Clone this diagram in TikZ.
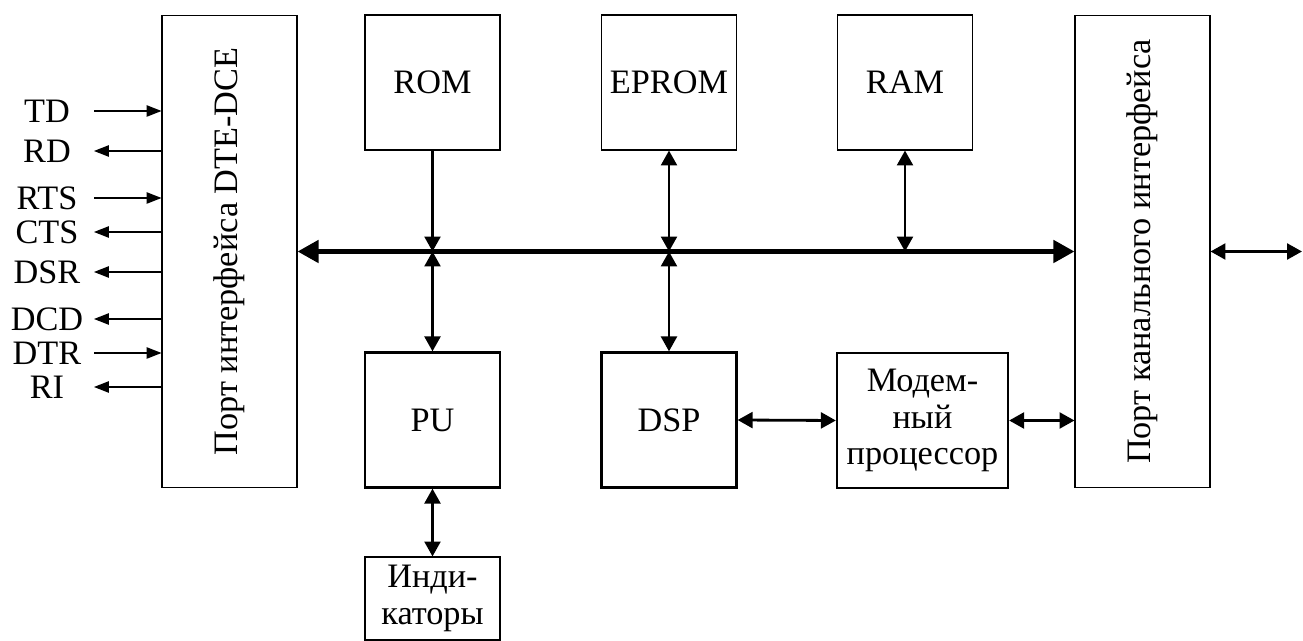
\documentclass[tikz,border=0pt]{standalone}
\usepackage{fontspec}
\setmainfont{Liberation Serif}
\usetikzlibrary{arrows.meta}
\usetikzlibrary{positioning}

\begin{document}
\begin{tikzpicture}[x=0.02cm, y=-0.02cm,
    font=\fontsize{19.5}{21}\selectfont,
    block/.style={draw, line width=0.6pt, minimum width=2.7cm, minimum height=2.7cm, align=center, inner sep=0pt},
    boldblock/.style={block, line width=1.3pt},
    link/.style={line width=1.6pt, {Triangle[length=8.5pt, width=9pt]}-{Triangle[length=8.5pt, width=9pt]}},
    tolink/.style={line width=1.6pt, -{Triangle[length=8.5pt, width=9pt]}},
    bus/.style={line width=2.8pt, {Triangle[length=12pt, width=12.5pt]}-{Triangle[length=12pt, width=12.5pt]}},
    sigline/.style={line width=0.7pt, -{Triangle[length=8.5pt, width=6.5pt]}}]
  \useasboundingbox (0,0) rectangle (1303,641);

  % Ports
  \node[block, minimum height=9.46cm] (dte) at (229.5, 251.5) {};
  \node[rotate=90] (dtetext) at (dte.center) {Порт интерфейса DTE-DCE};
  \node[block, minimum height=9.46cm] (chan) at (1142.5, 251.5) {};
  \node[rotate=90] (chantext) at (chan.center) {Порт канального интерфейса};

  % Memory
  \node[block] (rom) at (432.5, 82.5) {ROM};
  \node[block] (eprom) at (669, 82.5) {EPROM};
  \node[block] (ram) at (905, 82.5) {RAM};

  % Processors
  \node[boldblock] (pu) at (432.5, 420) {PU};
  \node[boldblock] (dsp) at (669, 420) {DSP};
  \node[boldblock, minimum width=3.42cm] (modem) at (922.5, 420.5) {Модем-\\ный\\процессор};
  \node[block, minimum height=1.66cm] (ind) at (432.5, 598.5) {Инди-\\каторы};
  \coordinate (ext) at (1302, 251.5);

  % System bus
  \draw[bus] (dte.east) -- (chan.west);

  \draw[tolink] (rom.south) -- (rom.south |- dte.east);
  \draw[link] (pu.north |- dte.east) -- (pu.north);
  \draw[link] (eprom.south) -- (eprom.south |- dte.east);
  \draw[link] (dsp.north |- dte.east) -- (dsp.north);
  \draw[link] (ram.south) -- (ram.south |- dte.east);
  \draw[link] (pu.south) -- (ind.north);
  \draw[link] (dsp.east) -- (modem.west);
  \draw[link] (modem.east) -- (modem.east -| chan.west);
  \draw[link] (chan.east) -- (ext);

  % Interface signals
  \foreach \sig/\y/\s/\t in {TD/111/tail/pin, RD/151/pin/tail, RTS/198/tail/pin, CTS/232/pin/tail,
                              DSR/272/pin/tail, DCD/319/pin/tail, DTR/353/tail/pin, RI/387/pin/tail} {
    \node (sig-\sig) at (47, \y) {\sig};
    \coordinate (tail-\sig) at (94, \y);
    \coordinate (pin-\sig) at (dte.west |- tail-\sig);
    \draw[sigline] (\s-\sig) -- (\t-\sig);
  }
\end{tikzpicture}
\end{document}
